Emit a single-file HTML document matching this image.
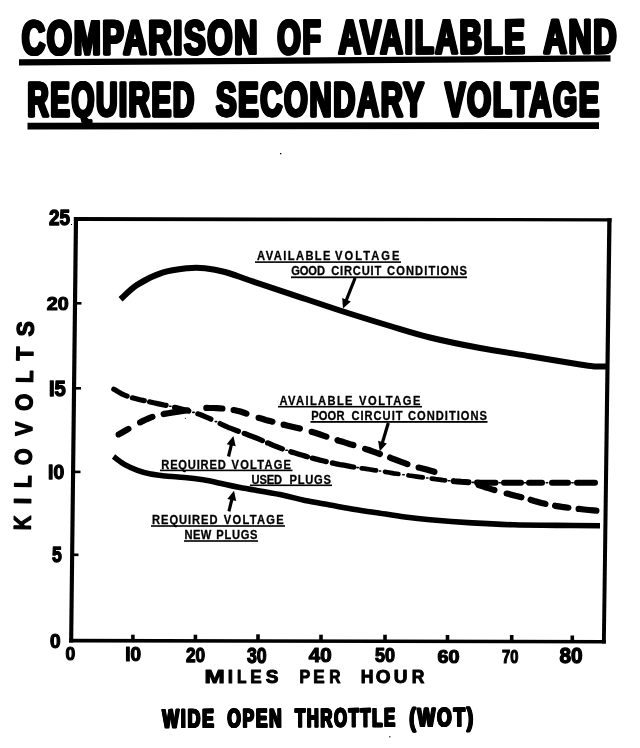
<!DOCTYPE html>
<html><head><meta charset="utf-8"><title>Comparison of Available and Required Secondary Voltage</title>
<style>
html,body{margin:0;padding:0;background:#fff;}
body{width:640px;height:748px;overflow:hidden;font-family:"Liberation Sans",sans-serif;}
svg{display:block;position:absolute;left:0;top:0;filter:grayscale(1);}
text{font-family:"Liberation Sans",sans-serif;font-weight:bold;fill:#000;stroke:#000;stroke-linejoin:round;}
.tw{font-size:47.6px;stroke-width:2.8px;letter-spacing:2.6px;}
.lab{font-size:12.4px;stroke-width:0.3px;}
.fb{font-size:24px;stroke-width:1.5px;}
.kv{font-size:24px;stroke-width:1.3px;}
.mph{font-size:19px;stroke-width:1px;}
.wot{font-size:25.8px;stroke-width:1.7px;letter-spacing:2.6px;}
.ln{stroke:#000;fill:none;}
</style></head>
<body>
<svg width="640" height="748" viewBox="0 0 640 748">
<rect x="0" y="0" width="640" height="748" fill="#fff"/>

<!-- title -->
<g transform="rotate(-0.14 22 56)">
<text class="tw" transform="translate(21.32,54.30) scale(0.6777,1)">COMPARISON</text><text class="tw" transform="translate(21.92,54.30) scale(0.6777,1)">COMPARISON</text><text class="tw" transform="translate(22.52,54.30) scale(0.6777,1)">COMPARISON</text>
<text class="tw" transform="translate(276.87,54.30) scale(0.6313,1)">OF</text><text class="tw" transform="translate(277.47,54.30) scale(0.6313,1)">OF</text><text class="tw" transform="translate(278.07,54.30) scale(0.6313,1)">OF</text>
<text class="tw" transform="translate(338.00,54.30) scale(0.6514,1)">AVAILABLE</text><text class="tw" transform="translate(338.60,54.30) scale(0.6514,1)">AVAILABLE</text><text class="tw" transform="translate(339.20,54.30) scale(0.6514,1)">AVAILABLE</text>
<text class="tw" transform="translate(543.00,54.30) scale(0.6741,1)">AND</text><text class="tw" transform="translate(543.60,54.30) scale(0.6741,1)">AND</text><text class="tw" transform="translate(544.20,54.30) scale(0.6741,1)">AND</text>
</g>
<path d="M19 59.2 L610.5 55.3 L610.5 61.6 L19 65.4 Z"/>
<g>
<text class="tw" transform="translate(26.76,116.10) scale(0.6191,1)">REQUIRED</text><text class="tw" transform="translate(27.36,116.10) scale(0.6191,1)">REQUIRED</text><text class="tw" transform="translate(27.96,116.10) scale(0.6191,1)">REQUIRED</text>
<text class="tw" transform="translate(215.50,116.10) scale(0.6429,1)">SECONDARY</text><text class="tw" transform="translate(216.10,116.10) scale(0.6429,1)">SECONDARY</text><text class="tw" transform="translate(216.70,116.10) scale(0.6429,1)">SECONDARY</text>
<text class="tw" transform="translate(444.40,116.10) scale(0.6467,1)">VOLTAGE</text><text class="tw" transform="translate(445.00,116.10) scale(0.6467,1)">VOLTAGE</text><text class="tw" transform="translate(445.60,116.10) scale(0.6467,1)">VOLTAGE</text>
</g>
<path d="M27.5 122.8 L599 122.2 L599 129 L27.5 129.6 Z"/>

<!-- frame -->
<g>
<path d="M73.9 217 L78.1 217 L73.2 642.4 L69.1 642.4 Z"/>
<path d="M73.9 217 L611.6 218.2 L611.6 221.4 L73.9 221 Z"/>
<path d="M607.3 218.2 L611.6 218.2 L605.8 643.5 L601.9 643.5 Z"/>
<path d="M69.1 638.8 L605.8 640 L605.8 643.5 L69.1 642.4 Z"/>
</g>

<!-- y ticks -->
<g class="ln" stroke-width="2.6">
<path d="M75 303.3 h6.5"/><path d="M74 388.3 h7"/><path d="M73 471.9 h7.5"/><path d="M72 554.8 h6.5"/>
</g>
<!-- x ticks -->
<g class="ln" stroke-width="3.6">
<path d="M132.9 634.7 v6"/><path d="M195.4 634.7 v6"/><path d="M258 634.3 v6"/><path d="M321 634.7 v6"/><path d="M385 634.7 v6"/><path d="M447.5 635 v6"/><path d="M511.7 635 v6"/><path d="M572.3 635.5 v6"/>
</g>

<!-- y numbers -->
<text class="fb" style="font-size:24px;stroke-width:1.5px;" transform="translate(48.90,225.10) scale(0.7889,0.9000)">25</text>
<text class="fb" style="font-size:24px;stroke-width:1.5px;" transform="translate(46.75,310.20) scale(0.8212,0.8000)">20</text>
<text class="fb" style="font-size:24px;stroke-width:1.5px;" transform="translate(48.96,395.81) scale(0.8421,0.8895)">I5</text>
<text class="fb" style="font-size:24px;stroke-width:1.5px;" transform="translate(48.09,478.96) scale(0.8053,0.8368)">I0</text>
<text class="fb" style="font-size:24px;stroke-width:1.5px;" transform="translate(52.00,562.09) scale(0.7357,0.9053)">5</text>
<text class="fb" style="font-size:24px;stroke-width:1.5px;" transform="translate(50.00,647.92) scale(0.7923,0.8289)">0</text>

<!-- x numbers -->
<text class="fb" style="font-size:24px;stroke-width:1.5px;" transform="translate(65.50,660.21) scale(0.7308,0.7895)">0</text>
<text class="fb" style="font-size:24px;stroke-width:1.5px;" transform="translate(125.21,661.18) scale(0.7895,0.8158)">I0</text>
<text class="fb" style="font-size:24px;stroke-width:1.5px;" transform="translate(186.00,661.94) scale(0.7192,0.8579)">20</text>
<text class="fb" style="font-size:24px;stroke-width:1.5px;" transform="translate(246.90,662.82) scale(0.7385,0.8842)">30</text>
<text class="fb" style="font-size:24px;stroke-width:1.5px;" transform="translate(308.75,662.18) scale(0.8558,0.8158)">40</text>
<text class="fb" style="font-size:24px;stroke-width:1.5px;" transform="translate(375.00,662.18) scale(0.7500,0.8158)">50</text>
<text class="fb" style="font-size:24px;stroke-width:1.5px;" transform="translate(437.50,662.71) scale(0.8269,0.7895)">60</text>
<text class="fb" style="font-size:24px;stroke-width:1.5px;" transform="translate(502.00,662.71) scale(0.6154,0.7895)">70</text>
<text class="fb" style="font-size:24px;stroke-width:1.5px;" transform="translate(559.50,663.11) scale(0.8654,0.8947)">80</text>

<!-- axis titles -->
<g transform="translate(30.4,530) rotate(-89.1)">
<text class="kv" text-anchor="middle" transform="translate(7.00,0) scale(0.84,1)">K</text><text class="kv" text-anchor="middle" x="28.80" y="0">I</text><text class="kv" text-anchor="middle" transform="translate(48.30,0) scale(0.86,1)">L</text><text class="kv" text-anchor="middle" transform="translate(73.20,0) scale(0.9,1)">O</text><text class="kv" text-anchor="middle" transform="translate(101.00,0) scale(0.88,1)">V</text><text class="kv" text-anchor="middle" transform="translate(127.50,0) scale(0.92,1)">O</text><text class="kv" text-anchor="middle" transform="translate(153.25,0) scale(0.86,1)">L</text><text class="kv" text-anchor="middle" transform="translate(176.15,0) scale(0.95,1)">T</text><text class="kv" text-anchor="middle" transform="translate(201.00,0) scale(0.95,1)">S</text>
</g>
<g transform="translate(0,682.8)">
<text class="mph" text-anchor="middle" transform="translate(214.50,0) scale(1.28,1)">M</text><text class="mph" text-anchor="middle" x="230.40" y="0">I</text><text class="mph" text-anchor="middle" transform="translate(241.75,0) scale(0.82,1)">L</text><text class="mph" text-anchor="middle" transform="translate(256.00,0) scale(0.9,1)">E</text><text class="mph" text-anchor="middle" x="272.00" y="0">S</text><text class="mph" text-anchor="middle" transform="translate(305.00,0) scale(0.85,1)">P</text><text class="mph" text-anchor="middle" transform="translate(319.00,0) scale(0.9,1)">E</text><text class="mph" text-anchor="middle" transform="translate(334.90,0) scale(0.82,1)">R</text><text class="mph" text-anchor="middle" transform="translate(367.25,0) scale(0.93,1)">H</text><text class="mph" text-anchor="middle" x="383.20" y="0">O</text><text class="mph" text-anchor="middle" x="400.50" y="0">U</text><text class="mph" text-anchor="middle" transform="translate(418.10,0) scale(0.92,1)">R</text>
</g>
<g transform="translate(0,727.4) rotate(-0.27 161 0)">
<text class="wot" transform="translate(161.89,0.00) scale(0.6882,1)">WIDE</text><text class="wot" transform="translate(162.29,0.00) scale(0.6882,1)">WIDE</text><text class="wot" transform="translate(162.69,0.00) scale(0.6882,1)">WIDE</text>
<text class="wot" transform="translate(227.00,0.00) scale(0.6713,1)">OPEN</text><text class="wot" transform="translate(227.40,0.00) scale(0.6713,1)">OPEN</text><text class="wot" transform="translate(227.80,0.00) scale(0.6713,1)">OPEN</text>
<text class="wot" transform="translate(294.64,0.00) scale(0.6427,1)">THROTTLE</text><text class="wot" transform="translate(295.04,0.00) scale(0.6427,1)">THROTTLE</text><text class="wot" transform="translate(295.44,0.00) scale(0.6427,1)">THROTTLE</text>
<text class="wot" transform="translate(409.00,0.00) scale(0.7264,1)">(WOT)</text><text class="wot" transform="translate(409.40,0.00) scale(0.7264,1)">(WOT)</text><text class="wot" transform="translate(409.80,0.00) scale(0.7264,1)">(WOT)</text>
</g>

<!-- curves -->
<path class="ln" stroke-width="6" d="M120.5 299.3 C123.3 296.9 130.5 289.0 137.5 284.6 C144.5 280.2 154.2 275.4 162.5 272.7 C170.8 270.0 180.4 269.0 187.5 268.2 C194.6 267.5 198.8 267.6 205.0 268.2 C211.2 268.9 217.5 270.0 225.0 272.0 C232.5 274.0 239.2 276.9 250.0 280.5 C260.8 284.1 275.0 288.8 290.0 293.8 C305.0 298.8 323.3 305.1 340.0 310.5 C356.7 315.9 375.0 321.5 390.0 326.0 C405.0 330.5 415.0 333.8 430.0 337.5 C445.0 341.2 463.3 344.9 480.0 348.0 C496.7 351.1 513.3 353.5 530.0 356.2 C546.7 359.0 569.6 362.8 580.0 364.5 C590.4 366.2 588.2 365.9 592.5 366.2 C596.8 366.6 603.8 366.5 606.0 366.5"/>
<path class="ln" stroke-linecap="round" stroke-width="5.2" d="M113.8 389.2 L113.8 389.2 L115.4 390.1 L117.3 391.3 L119.5 392.5 L121.9 393.9 L124.6 395.1 L127.1 396.1 M132.4 397.8 L132.4 397.8 L136.1 398.7 L140.0 399.7 L144.0 400.6 L144.3 400.6 M149.6 401.8 L150.0 401.9 L153.7 402.8 L157.5 403.6 L161.2 404.4 L165.0 405.2 L166.1 405.4 M174.5 407.3 L175.0 407.4 L178.8 408.3 L182.5 409.3 L186.2 410.3 L188.8 411.0 M197.8 413.8 L198.1 413.9 L201.9 415.3 L205.6 416.8 L209.3 418.4 L210.9 419.2 M220.1 423.6 L220.4 423.8 L224.3 425.6 L228.2 427.3 L232.2 428.9 L236.3 430.5 L238.4 431.3"/><path class="ln" stroke-linecap="round" stroke-width="5.3" d="M244.2 433.4 L244.8 433.6 L248.9 435.2 L253.0 436.7 L257.0 438.3 L260.8 439.9 L262.4 440.6 M267.6 442.9 L267.7 442.9 L271.3 444.5 L275.0 446.1 L278.8 447.5 L282.4 448.9 M290.8 451.7 L291.2 451.9 L295.0 453.0 L298.8 454.2 L302.5 455.3 L306.2 456.4 L307.4 456.7 M312.3 458.1 L312.5 458.1 L316.3 459.1 L320.0 460.1 L323.8 461.0 L326.2 461.6 M332.4 463.0 L332.5 463.0 L336.2 463.8 L340.0 464.6 L343.8 465.2 L347.5 465.9 L351.2 466.6 L353.7 467.0"/><path class="ln" stroke-linecap="round" stroke-width="4.7" d="M361.6 468.3 L362.1 468.3 L366.1 468.9 L370.1 469.5 L373.8 470.1 L376.1 470.4 M385.0 471.8 L385.3 471.9 L387.2 472.2 L389.1 472.5 L391.1 472.9 L393.6 473.3 L396.6 473.7 L398.4 474.0 M408.4 475.4 L408.9 475.5 L412.9 476.0 L416.8 476.6 L420.6 477.1 L422.8 477.4 M431.7 478.6 L431.9 478.7 L435.6 479.2 L439.4 479.6 L443.1 480.1 L445.2 480.3"/><path class="ln" stroke-linecap="round" stroke-width="6.0" d="M453.6 481.1 L453.7 481.2 L457.5 481.5 L461.2 481.8 L465.0 482.0 L468.5 482.2 M477.0 482.6 L477.2 482.6 L480.7 482.7 L484.3 482.7 L488.0 482.7 L492.1 482.8 L495.5 482.8 M504.0 482.8 L504.5 482.8 L509.0 482.8 L514.1 482.8 L519.7 482.8 L521.0 482.8 M529.0 482.8 L530.0 482.8 L531.3 482.8 L532.7 482.8 L534.2 482.8 L535.7 482.8 L537.3 482.8 L539.0 482.8 L540.7 482.8 L542.0 482.8 M552.0 482.8 L553.9 482.8 L555.9 482.8 L557.9 482.8 L559.9 482.8 L561.9 482.8 L563.9 482.8 L565.9 482.8 L567.9 482.8 L568.0 482.8 M577.0 482.8 L577.6 482.8 L579.4 482.8 L581.2 482.8 L582.9 482.8 L584.6 482.8 L586.2 482.8 L587.8 482.8 L589.3 482.8 L590.7 482.8 L592.1 482.8 L593.3 482.8 L594.5 482.8 L595.0 482.8"/><path class="ln" stroke-linecap="round" stroke-width="1.6" d="M169.6 406.3 h1.4 M192.8 412.4 h1.4 M215.2 421.6 h1.4 M285.9 450.3 h1.4 M356.9 467.6 h1.4 M379.3 471.0 h1.4 M402.8 474.7 h1.4 M426.6 478.0 h1.4 M448.3 480.7 h1.4 M472.3 482.4 h1.4 M499.0 482.8 h1.4 M524.3 482.8 h1.4 M546.3 482.8 h1.4 M571.8 482.8 h1.4"/>

<path class="ln" stroke-linecap="round" stroke-width="6.2" d="M118.6 434.5 L118.7 434.5 L120.9 433.2 L123.4 431.8 L126.0 430.3 L128.4 428.9 M140.1 422.4 L140.4 422.3 L142.6 421.1 L144.9 420.0 L147.1 419.0 L149.1 418.2 L151.0 417.4 L152.4 416.9 M163.6 414.0 L164.1 413.9 L168.4 413.2 L173.1 412.4 L178.0 411.7 L182.7 411.0 L187.0 410.4 L187.4 410.4 M206.3 407.9 L206.6 407.9 L209.8 408.0 L213.2 408.0 L216.6 408.2 L220.0 408.4 L222.4 408.5 M233.6 410.0 L233.9 410.0 L236.0 410.5 L238.1 411.0 L240.4 411.6 L242.6 412.3 L244.8 413.0 L246.4 413.6 M258.6 417.8 L258.7 417.8 L262.1 418.8 L265.8 419.9 L269.7 420.9 L272.4 421.7 M283.6 424.7 L283.7 424.7 L287.8 425.7 L292.1 426.7 L296.4 427.7 L299.9 428.6 M311.6 431.8 L311.7 431.8 L315.6 433.0 L319.5 434.3 L323.3 435.6 L326.4 436.6 M337.6 440.3 L337.7 440.4 L341.8 441.6 L346.0 442.9 L350.2 444.2 L353.4 445.1 M365.1 448.9 L365.7 449.1 L369.5 450.3 L373.2 451.6 L376.8 452.9 L379.9 454.0 M390.1 457.6 L390.5 457.8 L393.9 459.1 L397.2 460.4 L400.6 461.7 L404.0 462.9 L407.4 464.1 M418.6 467.5 L418.7 467.5 L422.6 468.6 L426.6 469.6 L430.8 470.8 L434.4 471.8 M478.6 485.1 L479.2 485.3 L482.8 486.4 L486.0 487.5 L489.0 488.4 L492.0 489.4 L494.4 490.1 M506.6 493.5 L507.3 493.6 L511.3 494.7 L515.4 495.8 L519.5 496.8 L521.4 497.3 M530.6 499.8 L530.8 499.9 L534.4 501.0 L538.0 502.0 L541.5 502.9 L545.1 503.8 L545.4 503.9 M555.1 505.8 L555.4 505.9 L558.7 506.4 L562.1 506.9 L565.5 507.3 L568.4 507.7 M578.6 508.9 L579.1 508.9 L584.0 509.5 L588.8 510.0 L593.2 510.4 L596.4 510.7"/>
<path class="ln" stroke-width="5.6" d="M113.5 456.5 C115.3 457.8 120.4 462.1 124.4 464.4 C128.4 466.7 133.1 468.8 137.5 470.4 C141.9 472.0 146.0 473.2 150.7 474.1 C155.4 475.0 160.1 475.4 165.7 476.0 C171.3 476.6 178.2 476.9 184.4 477.5 C190.7 478.1 197.3 478.9 203.2 479.8 C209.1 480.8 213.9 481.9 220.0 483.2 C226.1 484.5 230.0 485.6 240.0 487.5 C250.0 489.4 269.2 492.3 280.0 494.5 C290.8 496.7 296.7 498.8 305.0 500.5 C313.3 502.2 321.7 503.5 330.0 505.0 C338.3 506.5 346.7 508.1 355.0 509.5 C363.3 510.9 371.7 512.0 380.0 513.2 C388.3 514.5 396.7 515.9 405.0 517.0 C413.3 518.1 418.8 518.8 430.0 519.8 C441.2 520.8 458.0 522.1 472.0 522.9 C486.0 523.7 499.9 524.4 514.0 524.8 C528.1 525.2 542.2 525.2 556.5 525.4 C570.8 525.6 592.8 525.7 600.0 525.8"/>

<!-- labels -->
<text class="lab" transform="translate(257.00,260.30) scale(0.9,1)" textLength="81.7" lengthAdjust="spacing">AVAILABLE</text>
<text class="lab" transform="translate(335.00,260.30) scale(0.9,1)" textLength="71.7" lengthAdjust="spacing">VOLTAGE</text>
<text class="lab" transform="translate(291.25,275.40) scale(0.9,1)" textLength="37.5" lengthAdjust="spacing">GOOD</text>
<text class="lab" transform="translate(331.25,275.40) scale(0.9,1)" textLength="55.6" lengthAdjust="spacing">CIRCUIT</text>
<text class="lab" transform="translate(387.00,275.40) scale(0.9,1)" textLength="88.9" lengthAdjust="spacing">CONDITIONS</text>
<text class="lab" transform="translate(279.50,404.70) scale(0.9,1)" textLength="81.1" lengthAdjust="spacing">AVAILABLE</text>
<text class="lab" transform="translate(359.00,404.70) scale(0.9,1)" textLength="68.3" lengthAdjust="spacing">VOLTAGE</text>
<text class="lab" transform="translate(311.25,420.00) scale(0.9,1)" textLength="36.9" lengthAdjust="spacing">POOR</text>
<text class="lab" transform="translate(351.50,420.00) scale(0.9,1)" textLength="56.7" lengthAdjust="spacing">CIRCUIT</text>
<text class="lab" transform="translate(408.00,420.00) scale(0.9,1)" textLength="87.8" lengthAdjust="spacing">CONDITIONS</text>
<text class="lab" transform="translate(161.30,468.50) scale(0.9,1)" textLength="71.6" lengthAdjust="spacing">REQUIRED</text>
<text class="lab" transform="translate(231.60,468.50) scale(0.9,1)" textLength="66.0" lengthAdjust="spacing">VOLTAGE</text>
<text class="lab" transform="translate(251.50,483.50) scale(0.9,1)" textLength="34.0" lengthAdjust="spacing">USED</text>
<text class="lab" transform="translate(289.50,483.50) scale(0.9,1)" textLength="46.1" lengthAdjust="spacing">PLUGS</text>
<text class="lab" transform="translate(152.00,524.10) scale(0.9,1)" textLength="72.8" lengthAdjust="spacing">REQUIRED</text>
<text class="lab" transform="translate(223.75,524.10) scale(0.9,1)" textLength="66.7" lengthAdjust="spacing">VOLTAGE</text>
<text class="lab" transform="translate(184.50,539.20) scale(0.9,1)" textLength="29.7" lengthAdjust="spacing">NEW</text>
<text class="lab" transform="translate(216.25,539.20) scale(0.9,1)" textLength="45.8" lengthAdjust="spacing">PLUGS</text>

<g>
<rect x="255" y="261.3" width="146" height="1.6"/>
<rect x="291" y="276.4" width="176" height="1.8"/>
<rect x="278" y="405.9" width="144" height="1.6"/>
<rect x="310.5" y="421" width="177" height="1.8"/>
<rect x="160" y="469.6" width="132.5" height="1.6"/>
<rect x="250" y="484.5" width="82" height="1.6"/>
<rect x="151" y="525.2" width="134" height="1.6"/>
<rect x="184" y="540.2" width="74" height="1.6"/>
</g>

<!-- specks -->
<g><rect x="280" y="153" width="1.3" height="1.3"/><rect x="389.2" y="736.2" width="1.2" height="1.2"/><rect x="184.9" y="417.8" width="1" height="1"/><rect x="71" y="224" width="1" height="1"/></g>
<!-- arrows -->
<path class="ln" stroke-width="3.2" d="M355.1 278.0 L345.8 301.5"/><path d="M343.0 308.5 L342.2 298.0 L350.8 301.4 Z"/>
<path class="ln" stroke-width="3.2" d="M388.3 423.0 L382.0 444.0"/><path d="M379.8 451.2 L378.1 440.8 L386.9 443.4 Z"/>
<path class="ln" stroke-width="3.2" d="M228.5 456.5 L231.7 443.3"/><path d="M233.4 436.0 L235.7 446.3 L226.7 444.2 Z"/>
<path class="ln" stroke-width="3.2" d="M228.9 511.4 L232.2 498.1"/><path d="M234.0 490.8 L236.2 501.1 L227.3 498.9 Z"/>

</svg>
</body></html>
